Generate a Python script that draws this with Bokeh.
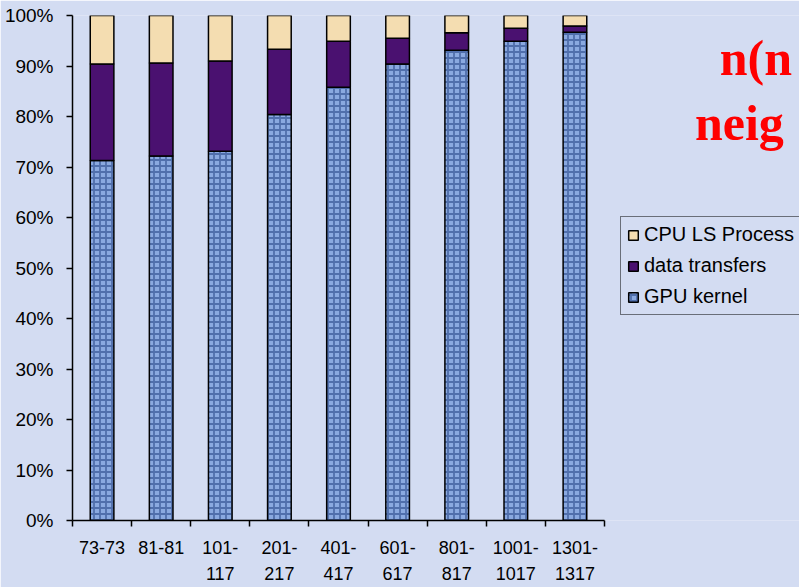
from bokeh.plotting import figure
from bokeh.models import (ColumnDataSource, Range1d, FixedTicker, NumeralTickFormatter,
                          Legend, LegendItem, Label)
from bokeh.embed import file_html
from bokeh.resources import INLINE
import numpy as np

# Problem sizes (range of atoms) on the x axis
categories = ["73-73", "81-81", "101-\n117", "201-\n217", "401-\n417",
              "601-\n617", "801-\n817", "1001-\n1017", "1301-\n1317"]

# Share of total run time spent in each phase
gpu_kernel = [0.713, 0.722, 0.731, 0.804, 0.858, 0.904, 0.931, 0.949, 0.967]
data_transfers = [0.191, 0.184, 0.179, 0.129, 0.091, 0.051, 0.035, 0.026, 0.012]
cpu_ls_process = [0.096, 0.094, 0.090, 0.067, 0.051, 0.045, 0.034, 0.025, 0.021]

y_ticks = [0.0, 0.1, 0.2, 0.3, 0.4, 0.5, 0.6, 0.7, 0.8, 0.9, 1.0]

n = len(categories)
centers = np.arange(n) + 0.5
gpu = np.array(gpu_kernel)
dt = np.array(data_transfers)
cpu = np.array(cpu_ls_process)

src = ColumnDataSource(dict(
    x=centers,
    gpu_top=gpu,
    dt_top=gpu + dt,
    cpu_top=gpu + dt + cpu,
    zero=np.zeros(n),
))

BG = "#d3dcf2"
W, H = 799, 587
LEFT, AXIS_END = 72, 604
# the plotting area runs to the right edge; the x axis itself stops after the last category
x_end = n * (W - LEFT) / (AXIS_END - LEFT)

p = figure(width=W, height=H, output_backend="svg", toolbar_location=None,
           x_range=Range1d(0, x_end), y_range=Range1d(0, 1),
           min_border_left=LEFT, min_border_right=0, min_border_top=15,
           min_border_bottom=65)
p.background_fill_color = BG
p.border_fill_color = BG
p.outline_line_color = None
p.xgrid.visible = False
p.ygrid.visible = False

r_gpu = p.vbar(x="x", bottom="zero", top="gpu_top", width=0.4, source=src,
               fill_color="#8aa9e0", line_color="black", line_width=1.5,
               hatch_pattern="cross", hatch_color="#2a4888", hatch_alpha=0.6,
               hatch_scale=6, hatch_weight=1.8)
r_dt = p.vbar(x="x", bottom="gpu_top", top="dt_top", width=0.4, source=src,
              fill_color="#4a1170", line_color="black", line_width=1.5)
r_cpu = p.vbar(x="x", bottom="dt_top", top="cpu_top", width=0.4, source=src,
               fill_color="#f4ddb1", line_color="black", line_width=1.5)

# y axis: percentages
yax = p.yaxis[0]
yax.ticker = FixedTicker(ticks=y_ticks)
yax.formatter = NumeralTickFormatter(format="0%")
yax.major_label_text_font = "Liberation Sans"
yax.major_label_text_font_size = "19px"
yax.major_label_text_color = "black"
yax.major_tick_out = 6
yax.major_tick_in = 0
yax.minor_tick_line_color = None
yax.axis_line_color = "black"
yax.axis_line_width = 1.5
yax.major_tick_line_width = 1.5
yax.major_label_standoff = 13

# x axis: labels under each bar, tick marks between categories
xax = p.xaxis[0]
xax.bounds = (0, n)
xax.ticker = FixedTicker(ticks=list(centers), minor_ticks=list(np.arange(n + 1)))
xax.major_label_overrides = {float(c): lab for c, lab in zip(centers, categories)}
xax.major_label_text_font = "Liberation Sans"
xax.major_label_text_font_size = "18px"
xax.major_label_text_color = "black"
xax.major_label_text_line_height = 1.33
xax.major_tick_out = 0
xax.major_tick_in = 0
xax.minor_tick_out = 6
xax.minor_tick_in = 0
xax.minor_tick_line_color = "black"
xax.minor_tick_line_width = 1.5
xax.axis_line_color = "black"
xax.axis_line_width = 1.5
xax.major_label_standoff = 11

legend = Legend(items=[
    LegendItem(label="CPU LS Process", renderers=[r_cpu]),
    LegendItem(label="data transfers", renderers=[r_dt]),
    LegendItem(label="GPU kernel", renderers=[r_gpu]),
], location=(548, 205))
legend.label_text_font = "Liberation Sans"
legend.label_text_font_size = "20px"
legend.label_text_color = "black"
legend.glyph_width = 12
legend.glyph_height = 12
legend.label_height = 20
legend.label_width = 220
legend.spacing = 8
legend.padding = 6
legend.margin = 0
legend.label_standoff = 5
legend.background_fill_alpha = 0
legend.border_line_color = "black"
legend.border_line_width = 1.2
p.add_layout(legend)

# slide heading beside the chart
for txt, xs, ys in [("n(n", 10.95, 0.915), ("neig", 10.53, 0.787)]:
    p.add_layout(Label(x=xs, y=ys, text=txt, text_font="Liberation Serif",
                       text_font_style="bold", text_font_size="50px",
                       text_color="#ff0000", text_baseline="alphabetic"))

open("out.html", "w").write(file_html(p, INLINE))
